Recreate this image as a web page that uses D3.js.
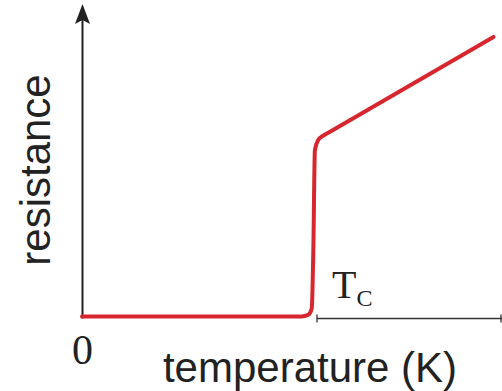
<!DOCTYPE html>
<html>
<head>
<meta charset="utf-8">
<script src="https://cdn.jsdelivr.net/npm/d3@7"></script>
<style>
  html, body { margin: 0; padding: 0; background: #fff; }
  svg { display: block; }
</style>
</head>
<body>
<div id="chart"></div>
<script>
// temperature (arbitrary units) and resistance values
const temperature = [0, 4.2, 4.33, 4.40, 4.43, 4.46, 4.52, 4.62, 4.75, 7.88];
const resistance  = [0.03, 0.03, 0.06, 0.19, 1.32, 3.25, 3.44, 3.53, 3.606, 5.44];
const Tc = 4.5;
const xLabel = "temperature (K)";
const yLabel = "resistance";
const zeroLabel = "0";

const width = 502, height = 391;

const svg = d3.select("#chart").append("svg")
    .attr("width", width)
    .attr("height", height);

const x = d3.scaleLinear().domain([0, 8]).range([82, 82 + 8 * 52.22]);
const y = d3.scaleLinear().domain([0, 6]).range([318, 8]);

const axisY = y(0) + 0.5;

// y axis with arrow head
svg.append("line")
    .attr("x1", x(0) + 0.5).attr("x2", x(0) + 0.5)
    .attr("y1", axisY).attr("y2", 20)
    .attr("stroke", "#222").attr("stroke-width", 2);
svg.append("path")
    .attr("d", `M${x(0) + 0.5},4 L${x(0) + 8},24 L${x(0) + 0.5},20 L${x(0) - 7},24 Z`)
    .attr("fill", "#222");

// x axis starts at Tc
svg.append("line")
    .attr("x1", x(Tc)).attr("x2", width)
    .attr("y1", axisY).attr("y2", axisY)
    .attr("stroke", "#333").attr("stroke-width", 1.3);
svg.append("line")
    .attr("x1", x(Tc)).attr("x2", x(Tc))
    .attr("y1", axisY - 4).attr("y2", axisY + 4)
    .attr("stroke", "#333").attr("stroke-width", 1.3);
svg.append("line")
    .attr("x1", width - 1).attr("x2", width - 1)
    .attr("y1", axisY - 4).attr("y2", axisY + 4)
    .attr("stroke", "#333").attr("stroke-width", 1.3);

// resistance curve
const line = d3.line()
    .x((d, i) => x(temperature[i]))
    .y(d => y(d))
    .curve(d3.curveMonotoneX);

svg.append("path")
    .datum(resistance)
    .attr("d", line)
    .attr("fill", "none")
    .attr("stroke", "#d7262e")
    .attr("stroke-width", 4)
    .attr("stroke-linecap", "round")
    .attr("stroke-linejoin", "round");

// labels
svg.append("text")
    .attr("x", 82.5).attr("y", 364)
    .attr("text-anchor", "middle")
    .style("font-family", "'Liberation Serif', 'Times New Roman', serif")
    .style("font-size", "42px")
    .style("fill", "#222")
    .text(zeroLabel);

svg.append("text")
    .attr("x", 310).attr("y", 382)
    .attr("text-anchor", "middle")
    .style("font-family", "'Liberation Sans', Arial, sans-serif")
    .style("font-size", "42px")
    .style("fill", "#222")
    .text(xLabel);

svg.append("text")
    .attr("transform", "translate(50,170) rotate(-90)")
    .attr("text-anchor", "middle")
    .style("font-family", "'Liberation Sans', Arial, sans-serif")
    .style("font-size", "42px")
    .style("fill", "#222")
    .text(yLabel);

const tc = svg.append("text")
    .attr("x", 332).attr("y", 298)
    .style("font-family", "'Liberation Serif', 'Times New Roman', serif")
    .style("fill", "#222");
tc.append("tspan").style("font-size", "40px").text("T");
tc.append("tspan").attr("y", 306).style("font-size", "24px").text("C");
</script>
</body>
</html>
